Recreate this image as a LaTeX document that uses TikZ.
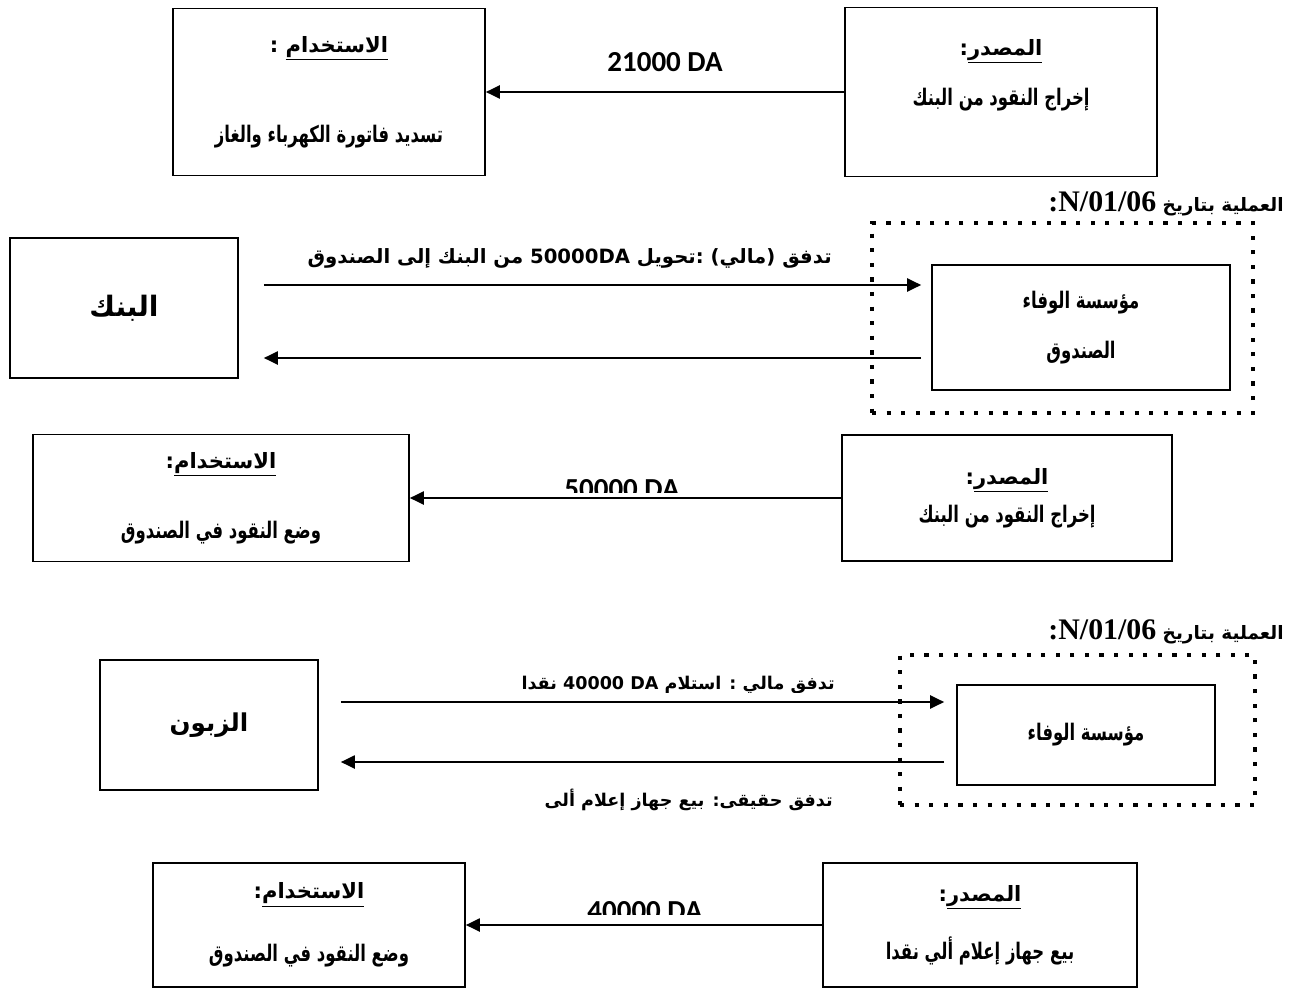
\documentclass[tikz,border=0pt]{standalone}
\usepackage{fontspec}
\usetikzlibrary{arrows.meta,positioning}
\TeXXeTstate=1
\newfontfamily\arabicfont[Script=Arabic]{DejaVu Sans}
\newfontfamily\arabicnarrow[Script=Arabic,FakeStretch=0.72]{DejaVu Sans}
\newfontfamily\datefont{Liberation Serif}
\newfontfamily\amountfont{Carlito}
\newcommand{\artext}[1]{{\arabicfont\bfseries\beginR #1\endR}}
\newcommand{\arbody}[1]{{\arabicnarrow\bfseries\fontsize{13}{16}\selectfont\beginR #1\endR}}
\newcommand{\opdate}{\beginL{\datefont\bfseries\fontsize{17}{19}\selectfont N/01/06}\endL{\datefont\bfseries\fontsize{17}{19}\selectfont :}}

\begin{document}
\begin{tikzpicture}[x=0.02cm, y=-0.02cm,
  box/.style={draw, line width=1pt, inner sep=0pt, align=center,
    font=\fontsize{12}{16}\selectfont},
  frame/.style={draw, line width=2.4pt, dash pattern=on 2.4pt off 5.9pt},
  flow/.style={-{Triangle[length=8pt,width=7.5pt]}, line width=1pt},
  flowtxt/.style={font=\fontsize{10}{12}\selectfont, inner sep=0pt},
  amount/.style={font=\amountfont\bfseries\fontsize{16.5}{19}\selectfont, inner sep=0pt},
  datetxt/.style={anchor=east, inner sep=0pt, font=\fontsize{10.5}{13}\selectfont}]

  \useasboundingbox (0,0) rectangle (1304,993);

  % first operation: paying the bill
  \node[box, minimum width=6.24cm, minimum height=3.34cm] (use1) at (329,92)
    {\artext{\underline{الاستخدام} :}\\[1.24cm]\arbody{تسديد فاتورة الكهرباء والغاز}};
  \node[box, minimum width=6.24cm, minimum height=3.38cm] (src1) at (1001,92) {};
  \node[box, draw=none, minimum size=0pt] (src1t) at (1001,75)
    {\artext{\underline{المصدر}:}\\[0.44cm]\arbody{إخراج النقود من البنك}};
  \draw[flow] (src1.west) -- (use1.east);
  \node[amount] (amt1) at (665,62) {21000 DA};

  % second operation: bank to cash
  \node[datetxt] (date1) at (1284,204) {\artext{العملية بتاريخ \opdate}};
  \node[frame, minimum width=7.62cm, minimum height=3.8cm] (firm1) at (1062.5,318) {};
  \node[box, minimum width=5.96cm, minimum height=2.5cm] (fund1) at (1081,327.5)
    {\arbody{مؤسسة الوفاء}\\[0.44cm]\arbody{الصندوق}};
  \node[box, minimum width=4.56cm, minimum height=2.8cm,
    font=\fontsize{16}{18}\selectfont] (bank) at (124,308) {\artext{البنك}};

  \draw[flow, shorten <=0.5cm, shorten >=0.2cm] (bank.east |- 0,285) -- (fund1.west |- 0,285);
  \draw[flow, shorten <=0.2cm, shorten >=0.5cm] (fund1.west |- 0,358) -- (bank.east |- 0,358);
  \node[flowtxt, anchor=east, font=\fontsize{11.2}{13}\selectfont] (lbl1) at (832,258)
    {\artext{تدفق (مالي) :تحويل 50000DA من البنك إلى الصندوق}};

  \node[box, minimum width=7.52cm, minimum height=2.54cm] (use2) at (221,498)
    {\artext{\underline{الاستخدام}:}\\[0.84cm]\arbody{وضع النقود في الصندوق}};
  \node[box, minimum width=6.6cm, minimum height=2.52cm] (src2) at (1007,498)
    {\artext{\underline{المصدر}:}\\[0.2cm]\arbody{إخراج النقود من البنك}};
  \draw[flow] (src2.west) -- (use2.east);
  \begin{scope}
    \clip (500,440) rectangle (760,492);
    \node[amount] (amt2) at (622,489) {50000 DA};
  \end{scope}

  % third operation: cash sale
  \node[datetxt] (date2) at (1284,632) {\artext{العملية بتاريخ \opdate}};
  \node[frame, minimum width=7.1cm, minimum height=3.0cm] (firm2) at (1077.5,730) {};
  \node[box, minimum width=5.16cm, minimum height=2.0cm] (fund2) at (1086,735)
    {\arbody{مؤسسة الوفاء}};
  \node[box, minimum width=4.36cm, minimum height=2.6cm,
    font=\fontsize{14}{16}\selectfont] (client) at (209,725) {\artext{الزبون}};

  \draw[flow, shorten <=0.44cm, shorten >=0.24cm] (client.east |- 0,702) -- (fund2.west |- 0,702);
  \draw[flow, shorten <=0.24cm, shorten >=0.44cm] (fund2.west |- 0,762) -- (client.east |- 0,762);
  \begin{scope}
    \clip (300,660) rectangle (880,692);
    \node[flowtxt, anchor=east] (lbl2) at (835,685)
      {\artext{تدفق مالي : استلام \beginL 40000 DA\endL{} نقدا}};
  \end{scope}
  \node[flowtxt, anchor=east] (lbl3) at (833,800)
    {\artext{تدفق حقيقى: بيع جهاز إعلام ألى}};

  \node[box, minimum width=6.24cm, minimum height=2.48cm] (use3) at (309,925)
    {\artext{\underline{الاستخدام}:}\\[0.7cm]\arbody{وضع النقود في الصندوق}};
  \node[box, minimum width=6.28cm, minimum height=2.48cm] (src3) at (980,925)
    {\artext{\underline{المصدر}:}\\[0.5cm]\arbody{بيع جهاز إعلام ألي نقدا}};
  \draw[flow] (src3.west) -- (use3.east);
  \begin{scope}
    \clip (520,880) rectangle (780,914);
    \node[amount] (amt3) at (645,911) {40000 DA};
  \end{scope}

\end{tikzpicture}
\end{document}
